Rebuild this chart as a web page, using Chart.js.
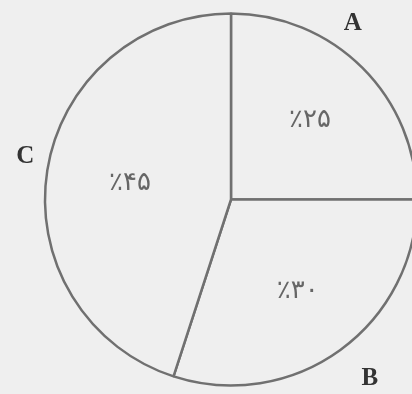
<!DOCTYPE html>
<html lang="fa">

<head>
    <meta charset="UTF-8">
    <title>Pie</title>
    <style>
        body {
            margin: 0;
            background-color: #efefef;
        }

        .wrap {
            width: 412px;
            height: 394px;
        }
    </style>
</head>

<body>
    <div class="wrap"><canvas id="pie"></canvas></div>
    <script src="https://cdn.jsdelivr.net/npm/chart.js"></script>
    <script>
        const categories = ['A', 'B', 'C'];
        const values = [25, 30, 45];
        const percentLabels = ['٪۲۵', '٪۳۰', '٪۴۵'];

        // draws the percent text inside each slice and the letter outside
        const sliceText = {
            id: 'sliceText',
            afterDatasetsDraw(chart, args, opts) {
                const ctx = chart.ctx;
                const arcs = chart.getDatasetMeta(0).data;
                ctx.save();
                ctx.textAlign = 'center';
                ctx.textBaseline = 'middle';
                arcs.forEach((arc, i) => {
                    const p = arc.getProps(['x', 'y', 'startAngle', 'endAngle', 'outerRadius'], true);
                    const mid = (p.startAngle + p.endAngle) / 2;
                    const t = opts.tweak[i];
                    // inner label
                    const ri = p.outerRadius * t.inner;
                    ctx.fillStyle = '#666';
                    ctx.font = '26px "DejaVu Sans"';
                    ctx.fillText(percentLabels[i], p.x + Math.cos(mid) * ri, p.y + Math.sin(mid) * ri);
                    // outer letter
                    const a = mid + t.turn;
                    const ro = p.outerRadius * t.outer;
                    ctx.fillStyle = '#333';
                    ctx.font = 'bold 25px "Liberation Serif"';
                    ctx.fillText(categories[i], p.x + Math.cos(a) * ro, p.y + Math.sin(a) * ro);
                });
                ctx.restore();
            }
        };

        new Chart(document.getElementById('pie'), {
            type: 'pie',
            data: {
                labels: categories,
                datasets: [{
                    data: values,
                    backgroundColor: '#efefef',
                    borderColor: '#707070',
                    borderWidth: 2.5,
                    clip: false,
                }],
            },
            options: {
                responsive: true,
                maintainAspectRatio: false,
                animation: false,
                radius: 186,
                layout: {
                    padding: { left: 50, right: 0, top: 5, bottom: 0 },
                },
                plugins: {
                    legend: { display: false },
                    tooltip: { enabled: false },
                    sliceText: {
                        tweak: [
                            { inner: 0.6, outer: 1.15, turn: -0.18 },
                            { inner: 0.61, outer: 1.22, turn: -0.03 },
                            { inner: 0.55, outer: 1.13, turn: 0.05 },
                        ],
                    },
                },
            },
            plugins: [sliceText],
        });
    </script>
</body>

</html>
